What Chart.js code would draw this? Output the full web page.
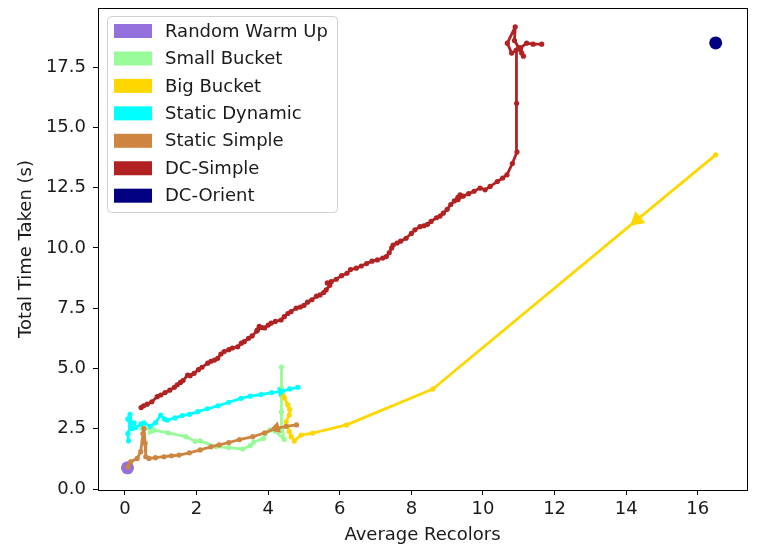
<!DOCTYPE html>
<html>
<head>
<meta charset="utf-8">
<script src="https://cdn.jsdelivr.net/npm/chart.js@4/dist/chart.umd.min.js"></script>
<style>
  html, body { margin: 0; padding: 0; background: #fff; }
  #wrap { width: 758px; height: 551px; }
</style>
</head>
<body>
<div id="wrap"><canvas id="chart" width="758" height="551"></canvas></div>
<script>
// ---- data: [average recolors, total time taken (s)] ----
const seriesNames = ['Random Warm Up', 'Small Bucket', 'Big Bucket', 'Static Dynamic',
                     'Static Simple', 'DC-Simple', 'DC-Orient'];

const randomWarmUp = [[0.07, 0.88]];

const smallBucket = [
  [0.47, 2.52], [0.76, 2.45], [1.2, 2.33], [1.70, 2.17], [1.96, 1.98], [2.1, 2.0],
  [2.54, 1.76], [2.9, 1.72], [3.29, 1.66], [3.5, 1.8], [3.6, 1.95], [3.87, 2.1],
  [3.92, 2.3], [4.05, 2.45], [4.2, 2.4], [4.45, 2.05], [4.38, 2.5], [4.37, 3.2],
  [4.37, 4.2], [4.37, 5.06]
];

const bigBucket = [
  [16.5, 13.86], [14.3, 11.16], [8.6, 4.15], [6.19, 2.66], [5.24, 2.32], [4.92, 2.24],
  [4.73, 1.99], [4.64, 2.17], [4.59, 2.38], [4.5, 2.79], [4.59, 3.07], [4.6, 3.3],
  [4.55, 3.49], [4.45, 3.78], [4.41, 3.9]
];

const staticDynamic = [
  [0.1, 2.0], [0.08, 2.3], [0.15, 2.6], [0.08, 2.9], [0.14, 3.1], [0.2, 2.5],
  [0.25, 2.75], [0.3, 2.55], [0.45, 2.7], [0.53, 2.74], [0.7, 2.6], [0.85, 2.75],
  [1.0, 3.07], [1.1, 2.9], [1.18, 2.86], [1.4, 2.95], [1.6, 3.05], [1.8, 3.1],
  [2.03, 3.21], [2.3, 3.33], [2.6, 3.45], [2.9, 3.6], [3.24, 3.76], [3.5, 3.85],
  [3.8, 3.92], [4.1, 4.0], [4.36, 4.04], [4.6, 4.15], [4.83, 4.22]
];

const staticSimple = [
  [0.08, 0.92], [0.16, 1.13], [0.34, 1.27], [0.44, 1.55], [0.5, 2.3], [0.53, 2.52],
  [0.56, 1.9], [0.58, 1.34], [0.67, 1.27], [0.85, 1.3], [1.09, 1.34], [1.3, 1.38],
  [1.51, 1.41], [1.8, 1.5], [2.1, 1.62], [2.4, 1.75], [2.63, 1.83], [2.9, 1.93],
  [3.2, 2.05], [3.57, 2.17], [3.9, 2.33], [4.22, 2.52], [4.5, 2.6], [4.79, 2.66]
];

const dcSimple = [
  [0.45, 3.38], [0.52, 3.45], [0.62, 3.52], [0.75, 3.62], [0.9, 3.83], [1.0, 3.9],
  [1.12, 4.0], [1.25, 4.1], [1.38, 4.22], [1.46, 4.32], [1.55, 4.42], [1.62, 4.5],
  [1.75, 4.73], [1.82, 4.7], [1.93, 4.8], [2.05, 4.95], [2.15, 5.05], [2.31, 5.22],
  [2.4, 5.3], [2.5, 5.35], [2.59, 5.42], [2.68, 5.6], [2.77, 5.7], [2.9, 5.78],
  [3.0, 5.85], [3.15, 5.9], [3.25, 6.05], [3.33, 6.11], [3.45, 6.25], [3.55, 6.35],
  [3.68, 6.55], [3.75, 6.75], [3.7, 6.6], [3.82, 6.7], [3.9, 6.68], [4.0, 6.8],
  [4.08, 6.88], [4.2, 6.95], [4.36, 7.01], [4.45, 7.15], [4.55, 7.28], [4.64, 7.36],
  [4.78, 7.5], [4.9, 7.55], [5.0, 7.62], [5.1, 7.75], [5.22, 7.85], [5.35, 8.0],
  [5.45, 8.05], [5.55, 8.15], [5.62, 8.26], [5.72, 8.45], [5.65, 8.55], [5.76, 8.6],
  [5.9, 8.7], [6.05, 8.85], [6.2, 8.95], [6.3, 9.1], [6.46, 9.16], [6.6, 9.25],
  [6.75, 9.35], [6.9, 9.45], [7.05, 9.5], [7.2, 9.58], [7.3, 9.64], [7.38, 9.8],
  [7.45, 10.0], [7.49, 10.12], [7.6, 10.2], [7.7, 10.28], [7.85, 10.4], [8.0, 10.6],
  [8.1, 10.75], [8.24, 10.88], [8.35, 10.92], [8.45, 10.98], [8.55, 11.1], [8.7, 11.25],
  [8.8, 11.32], [8.89, 11.44], [9.0, 11.6], [9.1, 11.8], [9.2, 11.95], [9.3, 12.1],
  [9.36, 12.2], [9.3, 12.0], [9.45, 12.15], [9.6, 12.25], [9.75, 12.35], [9.92, 12.48],
  [10.06, 12.41], [10.2, 12.55], [10.4, 12.75], [10.55, 12.9], [10.67, 13.03],
  [10.82, 13.5], [10.95, 13.98], [10.94, 16.0], [10.93, 18.2], [10.8, 18.08],
  [10.68, 18.49], [10.9, 19.17], [10.88, 18.6], [11.0, 18.3], [11.08, 18.08],
  [11.13, 17.95], [11.05, 18.3], [11.22, 18.49], [11.4, 18.45], [11.64, 18.45]
];

const dcOrient = [[16.5, 18.5]];

const xTicks = [0, 2, 4, 6, 8, 10, 12, 14, 16];
const yTicks = [0, 2.5, 5, 7.5, 10, 12.5, 15, 17.5];

// direction markers: index of the point carrying the arrowhead, +1 points toward
// the following point, -1 toward the preceding one
const arrowMarks = {
  'Small Bucket':   { at: 1,  dir: 1,  size: 7 },
  'Big Bucket':     { at: 1,  dir: 1,  size: 9 },
  'Static Dynamic': { at: 26, dir: 1,  size: 6 },
  'Static Simple':  { at: 21, dir: -1, size: 7 }
};

const colors = {
  'Random Warm Up': '#9370DB',
  'Small Bucket':   '#98FB98',
  'Big Bucket':     '#FFD700',
  'Static Dynamic': '#00FFFF',
  'Static Simple':  '#CD853F',
  'DC-Simple':      '#B22222',
  'DC-Orient':      '#000080'
};

const seriesData = [randomWarmUp, smallBucket, bigBucket, staticDynamic,
                    staticSimple, dcSimple, dcOrient];

const FONT = 'DejaVu Sans';
const FONT_SIZE = 18;
const TEXT = '#1a1a1a';

function arrowRotation(ctx, mark) {
  const chart = ctx.chart;
  const pts = chart.data.datasets[ctx.datasetIndex].data;
  const i = ctx.dataIndex;
  const a = pts[Math.max(i - 1, 0)];
  const b = pts[Math.min(i + 1, pts.length - 1)];
  const xs = chart.scales.x, ys = chart.scales.y;
  let dx = xs.getPixelForValue(b.x) - xs.getPixelForValue(a.x);
  let dy = ys.getPixelForValue(b.y) - ys.getPixelForValue(a.y);
  if (mark.dir < 0) { dx = -dx; dy = -dy; }
  return Math.atan2(dy, dx) * 180 / Math.PI + 90;
}

const datasets = seriesNames.map((name, k) => {
  const pts = seriesData[k].map(([x, y]) => ({ x, y }));
  const single = pts.length === 1;
  const mark = arrowMarks[name];
  const isArrow = ctx => mark && ctx.dataIndex === mark.at;
  return {
    label: name,
    data: pts,
    showLine: !single,
    borderColor: colors[name],
    backgroundColor: colors[name],
    borderWidth: 2.8,
    borderJoinStyle: 'round',
    borderCapStyle: 'round',
    pointBorderWidth: 0,
    pointBackgroundColor: colors[name],
    pointRadius: single ? 6.5 : (ctx => isArrow(ctx) ? mark.size : 2.6),
    pointStyle: ctx => isArrow(ctx) ? 'triangle' : 'circle',
    pointRotation: ctx => isArrow(ctx) ? arrowRotation(ctx, mark) : 0,
    pointHoverRadius: 0,
    order: seriesNames.length - k
  };
});

// axes frame and the boxed legend in the upper-left corner
const frameAndLegend = {
  id: 'frameAndLegend',
  afterDatasetsDraw(chart) {
    const { ctx, chartArea: a } = chart;
    ctx.save();
    ctx.strokeStyle = '#000';
    ctx.lineWidth = 1;
    ctx.strokeRect(Math.round(a.left) + 0.5, Math.round(a.top) + 0.5,
                   Math.round(a.right - a.left), Math.round(a.bottom - a.top));

    const lx = 107.5, ly = 16.5, lw = 230, lh = 196, r = 4;
    ctx.beginPath();
    ctx.moveTo(lx + r, ly);
    ctx.arcTo(lx + lw, ly, lx + lw, ly + lh, r);
    ctx.arcTo(lx + lw, ly + lh, lx, ly + lh, r);
    ctx.arcTo(lx, ly + lh, lx, ly, r);
    ctx.arcTo(lx, ly, lx + lw, ly, r);
    ctx.closePath();
    ctx.fillStyle = 'rgba(255,255,255,0.8)';
    ctx.fill();
    ctx.strokeStyle = '#d0d0d0';
    ctx.stroke();

    ctx.font = FONT_SIZE + 'px "' + FONT + '"';
    ctx.textBaseline = 'middle';
    ctx.textAlign = 'left';
    chart.data.datasets.forEach((ds, i) => {
      const cy = 31 + i * 27.45;
      ctx.fillStyle = ds.borderColor;
      ctx.fillRect(114, cy - 7, 38, 14);
      ctx.fillStyle = TEXT;
      ctx.fillText(ds.label, 165, cy + 1);
    });
    ctx.restore();
  }
};

new Chart(document.getElementById('chart'), {
  type: 'scatter',
  data: { datasets },
  options: {
    responsive: false,
    animation: false,
    devicePixelRatio: 1,
    layout: { padding: { left: 0, right: 11, top: 8, bottom: 0 } },
    plugins: { legend: { display: false }, tooltip: { enabled: false } },
    events: [],
    scales: {
      x: {
        type: 'linear',
        min: -0.754,
        max: 17.375,
        afterFit(s) { s.height = 61; s.paddingLeft = 0; s.paddingRight = 0; },
        afterBuildTicks(s) { s.ticks = xTicks.map(v => ({ value: v })); },
        ticks: {
          autoSkip: false, maxRotation: 0, padding: 4, color: TEXT,
          font: { family: FONT, size: FONT_SIZE },
          callback: v => String(v)
        },
        grid: { display: true, drawOnChartArea: false, drawTicks: true, tickLength: 5,
                color: '#000', tickColor: '#000', tickWidth: 1 },
        border: { display: false },
        title: { display: true, text: 'Average Recolors', color: TEXT,
                 font: { family: FONT, size: FONT_SIZE }, padding: { top: 0, bottom: 5 } }
      },
      y: {
        type: 'linear',
        min: -0.04,
        max: 19.95,
        afterFit(s) { s.width = 98; s.paddingTop = 0; s.paddingBottom = 0; },
        afterBuildTicks(s) { s.ticks = yTicks.map(v => ({ value: v })); },
        ticks: {
          autoSkip: false, padding: 7, color: TEXT,
          font: { family: FONT, size: FONT_SIZE },
          callback: v => Number(v).toFixed(1)
        },
        grid: { display: true, drawOnChartArea: false, drawTicks: true, tickLength: 5,
                color: '#000', tickColor: '#000', tickWidth: 1 },
        border: { display: false },
        title: { display: true, text: 'Total Time Taken (s)', color: TEXT,
                 font: { family: FONT, size: FONT_SIZE }, padding: { top: 16, bottom: 0 } }
      }
    }
  },
  plugins: [frameAndLegend]
});
</script>
</body>
</html>
